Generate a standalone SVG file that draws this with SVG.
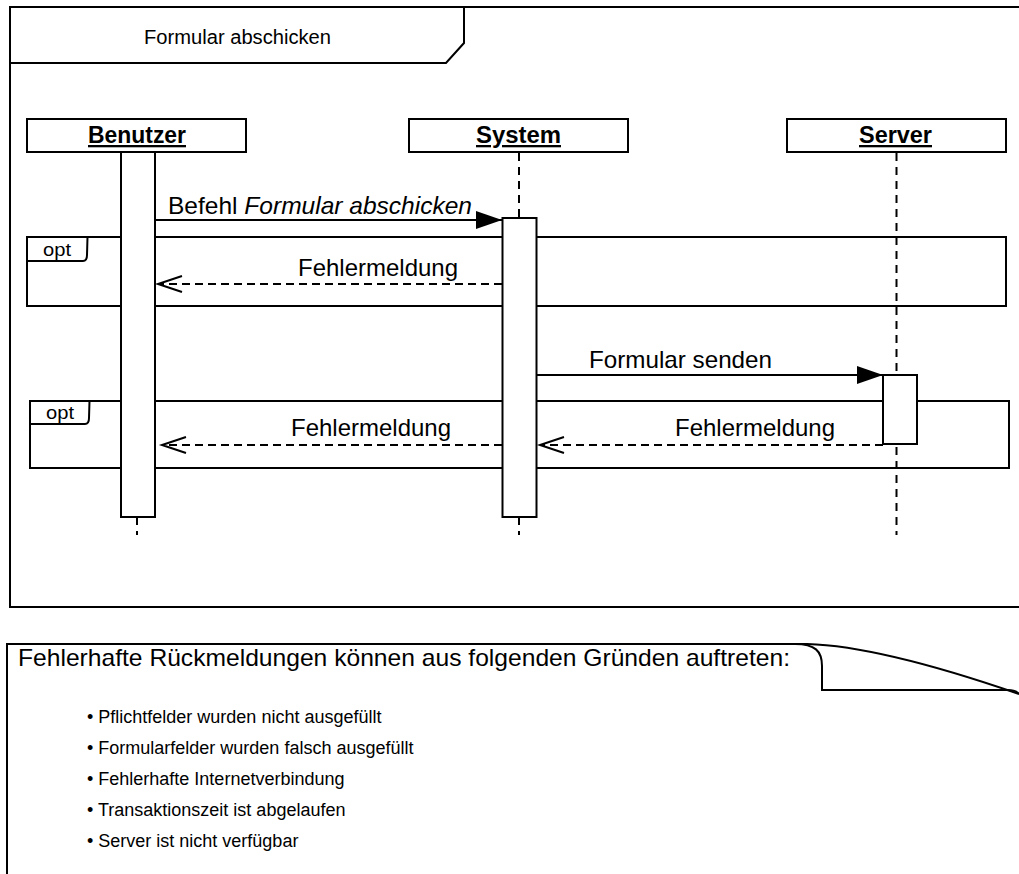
<svg xmlns="http://www.w3.org/2000/svg" width="1019" height="874" viewBox="0 0 1019 874">
<defs>
<style>
.ln{fill:none;stroke:#000;stroke-width:2}
.box{fill:#fff;stroke:#000;stroke-width:2}
.dash{fill:none;stroke:#000;stroke-width:2;stroke-dasharray:8 6}
.msgd{fill:none;stroke:#000;stroke-width:2;stroke-dasharray:8 5}
.t{font-family:"Liberation Sans",Arial,sans-serif;fill:#000}
.lbl{font-family:"Liberation Sans",Arial,sans-serif;font-size:24px;fill:#000}
.hd{font-family:"Liberation Sans",Arial,sans-serif;font-weight:bold;font-size:23px;text-decoration:underline;fill:#000}
</style>
<marker id="fill" markerUnits="userSpaceOnUse" markerWidth="28" markerHeight="20" refX="26" refY="9" orient="auto">
<path d="M0,0 L26,9 L0,18 Z" fill="#000"/>
</marker>
<marker id="open" markerUnits="userSpaceOnUse" markerWidth="30" markerHeight="20" refX="25" refY="9" orient="auto">
<path d="M1,1 L25,9 L1,17" fill="none" stroke="#000" stroke-width="2"/>
</marker>
</defs>
<rect width="1019" height="874" fill="#fff"/>
<g id="frame">
<path class="ln" d="M1030,7 L10,7 L10,607 L1030,607"/>
<path class="ln" d="M10,63 L446,63 L464,43 L464,7"/>
<text class="t" x="144" y="44" font-size="20" textLength="187" lengthAdjust="spacingAndGlyphs">Formular abschicken</text>
</g>
<g id="opt1">
<rect class="ln" x="27" y="237" width="979" height="69"/>
<path class="ln" d="M27,261 L83,261 Q87,261 87,255 L87.5,237"/>
<text class="t" x="43" y="256" font-size="19" textLength="28" lengthAdjust="spacingAndGlyphs">opt</text>
</g>
<g id="opt2">
<rect class="ln" x="30" y="401" width="979" height="67"/>
<path class="ln" d="M30,424 L85,424 Q89,424 89,418 L89.5,401"/>
<text class="t" x="46" y="419" font-size="19" textLength="28" lengthAdjust="spacingAndGlyphs">opt</text>
</g>
<g id="benutzer">
<path class="dash" d="M137,153 L137,535"/>
<rect class="box" x="27" y="119" width="219" height="33"/>
<text class="hd" x="88" y="143" textLength="98" lengthAdjust="spacingAndGlyphs">Benutzer</text>
<rect class="box" x="121" y="152" width="34" height="365"/>
</g>
<g id="system">
<path class="dash" d="M519,153 L519,535"/>
<rect class="box" x="409" y="119" width="219" height="33"/>
<text class="hd" x="476" y="143" textLength="85" lengthAdjust="spacingAndGlyphs">System</text>
<rect class="box" x="502.5" y="218" width="34" height="299"/>
</g>
<g id="server">
<path class="dash" d="M896.5,153 L896.5,535"/>
<rect class="box" x="787" y="119" width="219" height="33"/>
<text class="hd" x="859" y="143" textLength="73" lengthAdjust="spacingAndGlyphs">Server</text>
<rect class="box" x="883" y="375" width="34" height="69"/>
</g>
<g id="connectors">
<path class="ln" d="M155,220 L502,220" marker-end="url(#fill)"/>
<text class="lbl" x="168" y="214" textLength="304" lengthAdjust="spacingAndGlyphs">Befehl <tspan font-style="italic">Formular abschicken</tspan></text>
<path class="msgd" d="M502,284 L158,284" marker-end="url(#open)"/>
<text class="lbl" x="298" y="276" textLength="160" lengthAdjust="spacingAndGlyphs">Fehlermeldung</text>
<path class="ln" d="M537,375 L883,375" marker-end="url(#fill)"/>
<text class="lbl" x="589" y="368" textLength="183" lengthAdjust="spacingAndGlyphs">Formular senden</text>
<path class="msgd" d="M883,445 L540,445" marker-end="url(#open)"/>
<text class="lbl" x="675" y="436" textLength="160" lengthAdjust="spacingAndGlyphs">Fehlermeldung</text>
<path class="msgd" d="M502,445 L162,445" marker-end="url(#open)"/>
<text class="lbl" x="291" y="436" textLength="160" lengthAdjust="spacingAndGlyphs">Fehlermeldung</text>
</g>
<g id="note">
<path class="ln" d="M7,880 L7,644 L807,644 Q880,646 1019,694"/>
<path class="ln" d="M795,644 C815,644 822,651 822,666 L822,690 L1008,690 Q1016,690 1019,694"/>
<text class="t" x="18" y="666" font-size="24" textLength="772" lengthAdjust="spacingAndGlyphs">Fehlerhafte Rückmeldungen können aus folgenden Gründen auftreten:</text>
<text class="t" font-size="18">
<tspan x="87" y="723">• Pflichtfelder wurden nicht ausgefüllt</tspan>
<tspan x="87" y="754">• Formularfelder wurden falsch ausgefüllt</tspan>
<tspan x="87" y="785">• Fehlerhafte Internetverbindung</tspan>
<tspan x="87" y="816">• Transaktionszeit ist abgelaufen</tspan>
<tspan x="87" y="847">• Server ist nicht verfügbar</tspan>
</text>
</g>
</svg>
